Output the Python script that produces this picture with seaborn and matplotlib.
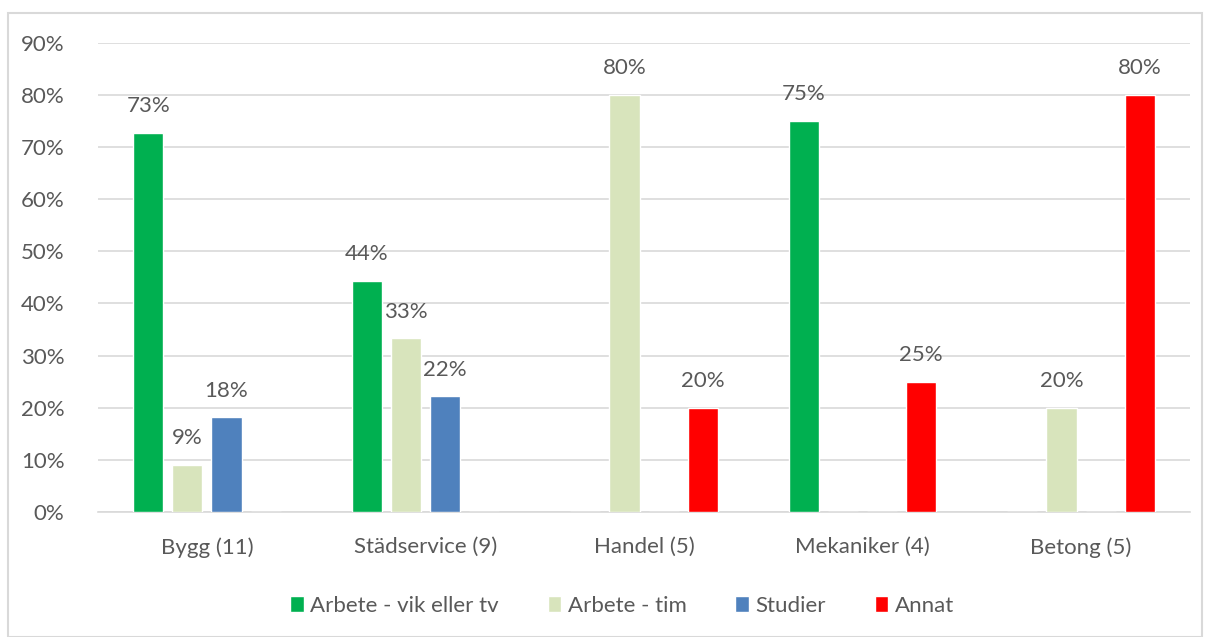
import pandas as pd
import seaborn as sns
import matplotlib.pyplot as plt
from matplotlib.patches import Rectangle

# data
kategorier = ['Bygg (11)', 'Städservice (9)', 'Handel (5)', 'Mekaniker (4)', 'Betong (5)']
serier = ['Arbete - vik eller tv', 'Arbete - tim', 'Studier', 'Annat']
vik_tv = [72.7, 44.4, 0, 75, 0]
tim = [9.1, 33.3, 80, 0, 20]
studier = [18.2, 22.2, 0, 0, 0]
annat = [0, 0, 20, 25, 80]
farger = ['#00B050', '#D8E4BC', '#4F81BD', '#FF0000']

rows = []
for s, vals in zip(serier, [vik_tv, tim, studier, annat]):
    for k, v in zip(kategorier, vals):
        rows.append({'kategori': k, 'serie': s, 'andel': v})
df = pd.DataFrame(rows)

sns.set_style('white')
plt.rcParams['font.family'] = ['Lato', 'DejaVu Sans']
textfarg = '#595959'

fig = plt.figure(figsize=(12.06, 6.37), dpi=100)
ax = fig.add_axes([0.081, 0.196, 0.906, 0.737])

sns.barplot(data=df, x='kategori', y='andel', hue='serie', hue_order=serier,
            palette=farger, order=kategorier, gap=0.23, width=0.716,
            saturation=1, ax=ax, legend=True, zorder=3)

# etiketter
for cont in ax.containers:
    labels = [f'{v:.0f}%' if v > 0 else '' for v in cont.datavalues]
    ax.bar_label(cont, labels=labels, padding=12, fontsize=16, color=textfarg)

ax.set_ylim(0, 90)
ax.set_yticks(range(0, 91, 10))
ax.set_yticklabels([f'{t}%' for t in range(0, 91, 10)])
ax.tick_params(axis='both', labelsize=16, colors=textfarg, length=0)
ax.tick_params(axis='x', pad=18)
ax.tick_params(axis='y', pad=24)
ax.grid(axis='y', color='#D9D9D9', linewidth=1.2, zorder=0)
ax.set_axisbelow(True)
ax.set_xlabel('')
ax.set_ylabel('')
for sp in ['top', 'right', 'left']:
    ax.spines[sp].set_visible(False)
ax.spines['bottom'].set_color('#D9D9D9')
ax.spines['bottom'].set_linewidth(1.2)

ax.legend(loc='upper center', bbox_to_anchor=(0.48, -0.135), ncol=4, frameon=False,
          fontsize=16, labelcolor=textfarg, handlelength=0.6, handleheight=0.7,
          handletextpad=0.3, columnspacing=2.2)

fig.patches.append(Rectangle((0.007, 0.0), 0.99, 0.98, transform=fig.transFigure,
                             fill=False, edgecolor='#D9D9D9', linewidth=1.5))

fig.savefig('out.png', dpi=100)
